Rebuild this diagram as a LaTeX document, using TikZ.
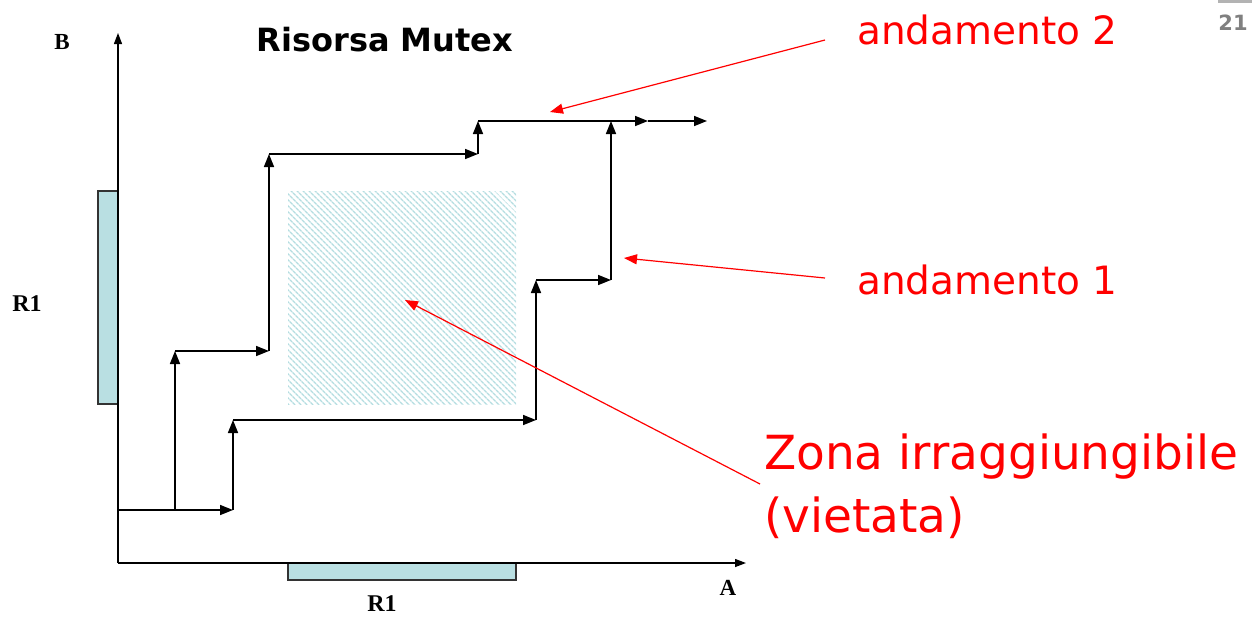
\documentclass[tikz,border=0pt]{standalone}
\usepackage{fontspec}
\setmainfont{Liberation Serif}
\setsansfont{DejaVu Sans}
\newfontfamily\notefont{DejaVu Sans}
\usetikzlibrary{arrows.meta,patterns.meta}
\definecolor{barfill}{HTML}{B9DFE2}
\definecolor{hatchblue}{HTML}{B4DDE1}
\definecolor{pagegray}{HTML}{808080}
\tikzset{
  flow/.style={line width=1.6pt,-{Triangle[length=13pt,width=10pt]}},
  seg/.style={line width=1.6pt},
  axis/.style={line width=1.3pt,-{Triangle[length=11pt,width=8pt]}},
  note/.style={draw=red,line width=1.2pt,-{Triangle[length=13pt,width=10pt]}},
  notetext/.style={text=red,anchor=west,inner sep=0pt},
  bar/.style={fill=barfill,draw=black!80,line width=1.1pt},
  lbl/.style={inner sep=0pt}
}
\begin{document}
\begin{tikzpicture}[x=1pt,y=-1pt]
\useasboundingbox (0,0) rectangle (1254,630);

% page number
\draw[pagegray!60,line width=3pt] (1218,1) -- (1252,1);
\node[font=\sffamily\bfseries\fontsize{21}{21}\selectfont,text=pagegray,inner sep=0pt] (pg) at (1233,23) {21};

% forbidden zone
\fill[pattern={Lines[angle=-45,distance=4pt,line width=1.5pt]},pattern color=hatchblue] (288,191) rectangle (516,404);

% resource bars
\draw[bar] (98,191) rectangle (118,404);
\draw[bar] (288,563) rectangle (516,580);

% axes
\coordinate (O) at (118,563);
\coordinate (Btip) at (118,33);
\coordinate (Atip) at (746,563);
\draw[axis] (O) -- (Btip);
\draw[axis] (O) -- (Atip);

% path points
\coordinate (s) at (118,510);
\coordinate (p1) at (175,510);
\coordinate (p2) at (175,351);
\coordinate (p3) at (269,351);
\coordinate (p4) at (269,154);
\coordinate (p5) at (478,154);
\coordinate (p6) at (478,121);
\coordinate (p7) at (648,121);
\coordinate (q1) at (233,510);
\coordinate (q2) at (233,420);
\coordinate (q3) at (536,420);
\coordinate (q4) at (536,280);
\coordinate (q5) at (611,280);
\coordinate (q6) at (611,121);
\coordinate (q7) at (707,121);

% trajectory 2 (upper)
\draw[seg] (s) -- (p1);
\draw[flow] (p1) -- (p2);
\draw[flow] (p2) -- (p3);
\draw[flow] (p3) -- (p4);
\draw[flow] (p4) -- (p5);
\draw[flow] (p5) -- (p6);
\draw[flow] (p6) -- (p7);

% trajectory 1 (lower)
\draw[flow] (s) -- (q1);
\draw[flow] (q1) -- (q2);
\draw[flow] (q2) -- (q3);
\draw[flow] (q3) -- (q4);
\draw[flow] (q4) -- (q5);
\draw[flow] (q5) -- (q6);
\draw[flow] (p7) -- (q7);

% labels
\node[lbl,font=\bfseries\fontsize{23}{23}\selectfont] (lb) at (62,42) {B};
\node[lbl,font=\bfseries\fontsize{23}{23}\selectfont] (la) at (728,588) {A};
\node[lbl,font=\bfseries\fontsize{24}{24}\selectfont] (lr1) at (27,304) {R1};
\node[lbl,font=\bfseries\fontsize{24}{24}\selectfont] (lr2) at (382,604) {R1};
\node[font=\sffamily\bfseries\fontsize{32}{32}\selectfont,inner sep=0pt] (title) at (385,40) {Risorsa Mutex};

% annotations
\node[notetext,font=\notefont\fontsize{39}{39}\selectfont] (a2) at (857,30) {andamento 2};
\node[notetext,font=\notefont\fontsize{39}{39}\selectfont] (a1) at (857,280) {andamento 1};
\node[notetext,font=\notefont\fontsize{47}{63}\selectfont,align=left,anchor=north west] (zona) at (764,434) {Zona irraggiungibile\\(vietata)};
\coordinate (a2t) at (550,112);
\coordinate (a1t) at (624,258);
\coordinate (zt) at (405,300);
\draw[note] (825,40) -- (a2t);
\draw[note] (825,278) -- (a1t);
\draw[note] (760,484) -- (zt);
\end{tikzpicture}
\end{document}
